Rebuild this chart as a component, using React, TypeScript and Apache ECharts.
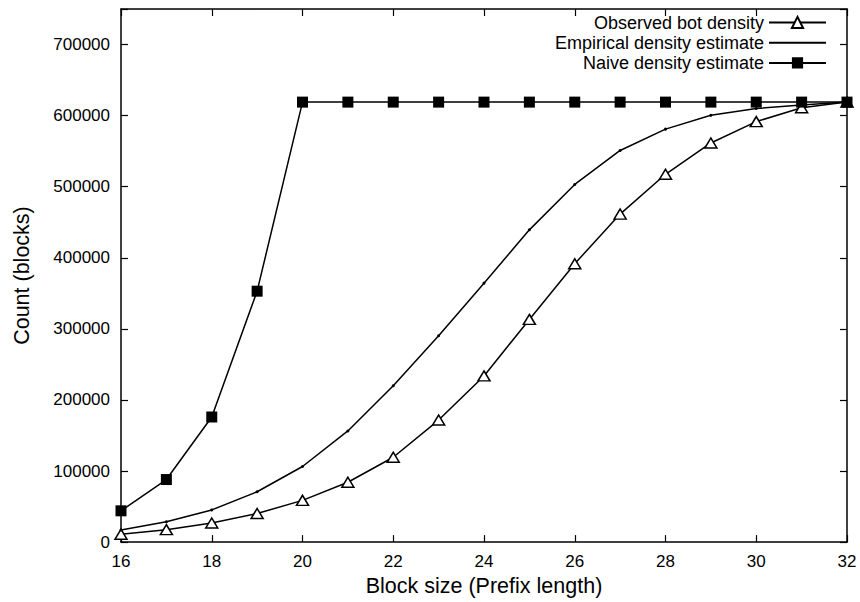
import React, { useEffect, useRef } from "react";
import * as echarts from "echarts";

const prefixLengths = [16, 17, 18, 19, 20, 21, 22, 23, 24, 25, 26, 27, 28, 29, 30, 31, 32];
const observedBot = [11000, 17500, 26800, 40200, 58700, 84200, 119400, 171700, 233800, 313300, 391600, 461500, 517500, 561500, 591600, 611000, 619000];
const empiricalEst = [17000, 28600, 45300, 70800, 106400, 156400, 220000, 290300, 364300, 439300, 503200, 551000, 581000, 600400, 610000, 615000, 619000];
const naiveEst = [44000, 88000, 176000, 353000, 619000, 619000, 619000, 619000, 619000, 619000, 619000, 619000, 619000, 619000, 619000, 619000, 619000];

const seriesNames = ["Observed bot density", "Empirical density estimate", "Naive density estimate"];

const FONT = "'Liberation Sans', Arial, Helvetica, sans-serif";

const pairs = (vals: number[]) => prefixLengths.map((x, i) => [x, vals[i]]);

export default function App() {
  const ref = useRef<HTMLDivElement>(null);
  useEffect(() => {
    if (!ref.current) return;
    const chart = echarts.init(ref.current, null, { renderer: "svg" });
    const tickCommon = { show: true, inside: true, length: 7, lineStyle: { color: "#000", width: 1.2 } };
    const lineCommon = { show: true, onZero: false, lineStyle: { color: "#000", width: 1.5 } };
    const legendBase = {
      orient: "vertical",
      right: 33,
      align: "right",
      padding: 0,
      itemWidth: 57,
      itemHeight: 14,
      itemGap: 0,
      textStyle: { fontFamily: FONT, fontSize: 18, color: "#000", lineHeight: 20 },
      selectedMode: false,
    };
    chart.setOption({
      animation: false,
      backgroundColor: "#fff",
      grid: { left: 121, right: 13, top: 9, bottom: 54, show: false },
      legend: [
        { ...legendBase, top: 12.5, data: [seriesNames[0]] },
        { ...legendBase, top: 32.7, data: [{ name: seriesNames[1], itemStyle: { opacity: 0 } }] },
        { ...legendBase, top: 52.9, data: [seriesNames[2]] },
      ],
      xAxis: [
        {
          type: "value",
          min: 16,
          max: 32,
          interval: 2,
          position: "bottom",
          name: "Block size (Prefix length)",
          nameLocation: "middle",
          nameGap: 31,
          nameTextStyle: { fontFamily: FONT, fontSize: 21.5, color: "#000" },
          axisLine: lineCommon,
          axisTick: tickCommon,
          axisLabel: { fontFamily: FONT, fontSize: 17, color: "#000", margin: 11 },
          splitLine: { show: false },
        },
        {
          type: "value",
          min: 16,
          max: 32,
          interval: 2,
          position: "top",
          axisLine: lineCommon,
          axisTick: tickCommon,
          axisLabel: { show: false },
          splitLine: { show: false },
        },
      ],
      yAxis: [
        {
          type: "value",
          min: 0,
          max: 750000,
          interval: 100000,
          position: "left",
          name: "Count (blocks)",
          nameLocation: "middle",
          nameGap: 88,
          nameTextStyle: { fontFamily: FONT, fontSize: 21.5, color: "#000" },
          axisLine: lineCommon,
          axisTick: tickCommon,
          axisLabel: {
            fontFamily: FONT,
            fontSize: 17,
            color: "#000",
            margin: 11,
            formatter: (v: number) => (v % 100000 === 0 ? String(v) : ""),
          },
          splitLine: { show: false },
        },
        {
          type: "value",
          min: 0,
          max: 750000,
          interval: 100000,
          position: "right",
          axisLine: lineCommon,
          axisTick: tickCommon,
          axisLabel: { show: false },
          splitLine: { show: false },
        },
      ],
      series: [
        {
          name: seriesNames[0],
          type: "line",
          xAxisIndex: 0,
          yAxisIndex: 0,
          data: pairs(observedBot),
          symbol: "triangle",
          symbolSize: [12, 10],
          showAllSymbol: true,
          lineStyle: { color: "#000", width: 1.5 },
          itemStyle: { color: "#fff", borderColor: "#000", borderWidth: 1.5 },
          z: 2,
        },
        {
          name: seriesNames[1],
          type: "line",
          xAxisIndex: 0,
          yAxisIndex: 0,
          data: pairs(empiricalEst),
          symbol: "circle",
          symbolSize: 3,
          showAllSymbol: true,
          lineStyle: { color: "#000", width: 1.5 },
          itemStyle: { color: "#000" },
          z: 3,
        },
        {
          name: seriesNames[2],
          type: "line",
          xAxisIndex: 0,
          yAxisIndex: 0,
          data: pairs(naiveEst),
          symbol: "rect",
          symbolSize: 11,
          showAllSymbol: true,
          lineStyle: { color: "#000", width: 1.5 },
          itemStyle: { color: "#000" },
          z: 4,
        },
      ],
    });
    return () => chart.dispose();
  }, []);
  return <div ref={ref} style={{ position: "fixed", left: 0, top: 0, width: 860, height: 602 }} />;
}
